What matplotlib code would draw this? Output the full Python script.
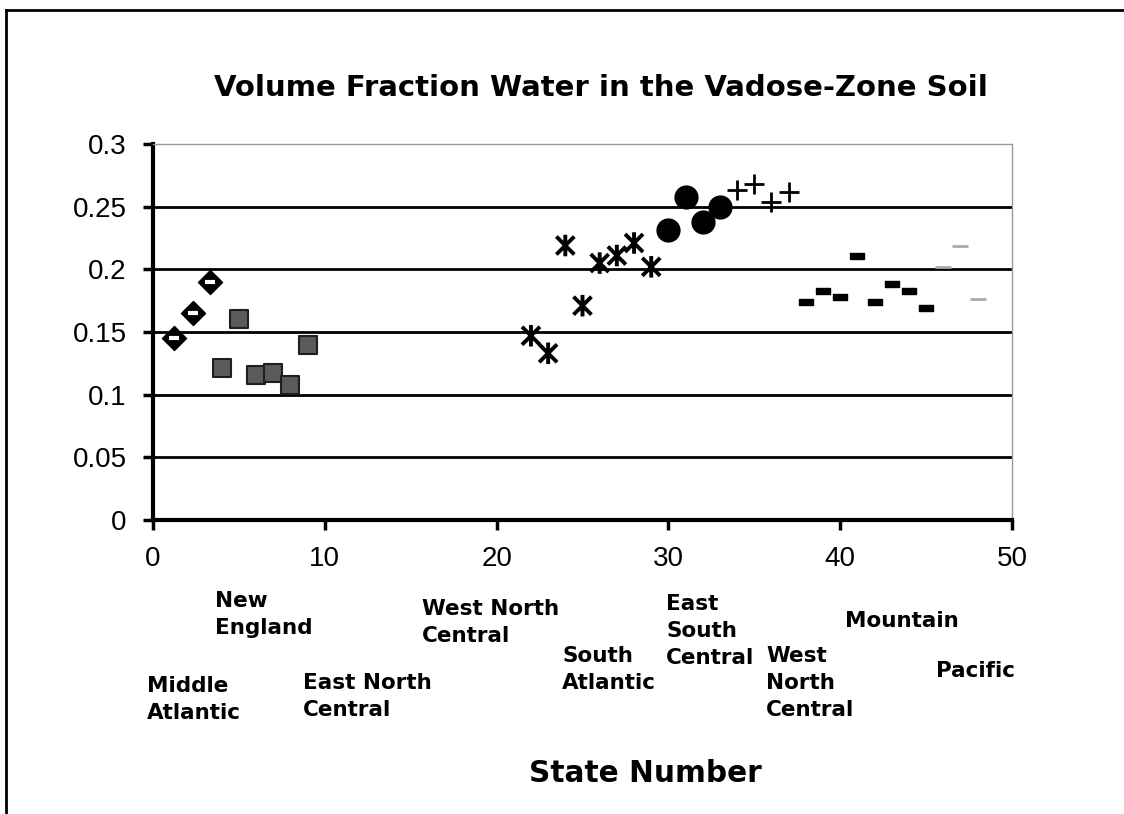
import numpy as np
import matplotlib.pyplot as plt
from matplotlib.path import Path
from matplotlib.lines import Line2D

# state numbers and volume fraction water, by census division
mid_atl_x = [1.2, 2.3, 3.3]
mid_atl_y = [0.145, 0.165, 0.190]
new_eng_x = [4, 5, 6, 7, 8, 9]
new_eng_y = [0.121, 0.160, 0.116, 0.117, 0.108, 0.140]
s_atl_x = [22, 23, 24, 25, 26, 27, 28, 29]
s_atl_y = [0.147, 0.133, 0.219, 0.171, 0.205, 0.211, 0.221, 0.202]
es_cen_x = [30, 31, 32, 33]
es_cen_y = [0.231, 0.258, 0.238, 0.250]
ws_cen_x = [34, 35, 36, 37]
ws_cen_y = [0.263, 0.268, 0.254, 0.262]
mountain_x = [38, 39, 40, 41, 42, 43, 44, 45]
mountain_y = [0.174, 0.183, 0.178, 0.211, 0.174, 0.188, 0.183, 0.169]
pacific_x = [46, 47, 48]
pacific_y = [0.202, 0.219, 0.176]

division_labels = ["New\nEngland", "West North\nCentral", "Middle\nAtlantic",
                   "East North\nCentral", "South\nAtlantic", "East\nSouth\nCentral",
                   "West\nNorth\nCentral", "Mountain", "Pacific"]
label_pos = [(215, 591), (422, 599), (147, 676), (303, 673), (562, 646),
             (666, 594), (766, 646), (845, 611), (936, 661)]

W, H = 1124, 814
fig = plt.figure(figsize=(W / 100, H / 100), dpi=100)
ax = fig.add_axes([153 / W, 1 - 520 / H, (1012 - 153) / W, (520 - 144) / H])

# custom markers
star = Path([(-1, -1), (1, 1), (-1, 1), (1, -1), (0, -1.2), (0, 1.2)],
            [Path.MOVETO, Path.LINETO, Path.MOVETO, Path.LINETO, Path.MOVETO, Path.LINETO])
dash = Path([(-1.6, -0.8), (1.6, -0.8), (1.6, 0.8), (-1.6, 0.8), (-1.6, -0.8)],
            [Path.MOVETO, Path.LINETO, Path.LINETO, Path.LINETO, Path.CLOSEPOLY])

ax.scatter(mid_atl_x, mid_atl_y, marker="D", s=150, color="black", zorder=3)
ax.scatter(mid_atl_x, mid_atl_y, marker="_", s=60, color="white", linewidths=3, zorder=4)
ax.scatter(new_eng_x, new_eng_y, marker="s", s=160, color="#5a5a5a",
           edgecolors="#1e1e1e", linewidths=1.5, zorder=3)
ax.scatter(s_atl_x, s_atl_y, marker=star, s=240, facecolors="none",
           edgecolors="black", linewidths=2.8, zorder=3)
ax.scatter(es_cen_x, es_cen_y, marker="o", s=270, color="black", zorder=3)
ax.scatter(ws_cen_x, ws_cen_y, marker="+", s=220, color="black", linewidths=2, zorder=3)
ax.scatter(mountain_x, mountain_y, marker=dash, s=100, color="black", zorder=3)
ax.scatter(pacific_x, pacific_y, marker="_", s=120, color="#aaaaaa", linewidths=2, zorder=3)

ax.set_xlim(0, 50)
ax.set_ylim(0, 0.3)
ax.set_xticks([0, 10, 20, 30, 40, 50])
ax.set_yticks([0, 0.05, 0.1, 0.15, 0.2, 0.25, 0.3])
ax.set_yticklabels(["0", "0.05", "0.1", "0.15", "0.2", "0.25", "0.3"])
ax.tick_params(labelsize=20, width=2.5, length=7, direction="out", pad=12)
for lab in ax.get_xticklabels() + ax.get_yticklabels():
    lab.set_family("Liberation Sans")
for y in [0.05, 0.1, 0.15, 0.2, 0.25]:
    ax.axhline(y, color="black", lw=2, zorder=1)
ax.spines["left"].set_linewidth(3)
ax.spines["bottom"].set_linewidth(3)
ax.spines["top"].set_color("#999999")
ax.spines["right"].set_color("#999999")
ax.spines["top"].set_linewidth(1)
ax.spines["right"].set_linewidth(1)

fig.text(601 / W, 1 - 88 / H, "Volume Fraction Water in the Vadose-Zone Soil",
         ha="center", va="center", fontsize=21, fontweight="bold", family="DejaVu Sans")
fig.text(645 / W, 1 - 774 / H, "State Number", ha="center", va="center",
         fontsize=21.3, fontweight="bold", family="DejaVu Sans")
for txt, (px, py) in zip(division_labels, label_pos):
    fig.text(px / W, 1 - py / H, txt, ha="left", va="top", fontsize=15.5,
             fontweight="bold", family="DejaVu Sans", linespacing=1.45)

# outer frame of the scanned page
fig.add_artist(Line2D([6 / W, 6 / W], [0, 1 - 10 / H], color="black", lw=2))
fig.add_artist(Line2D([6 / W, 1], [1 - 10 / H, 1 - 10 / H], color="black", lw=2))

fig.savefig("out.png", dpi=100)
